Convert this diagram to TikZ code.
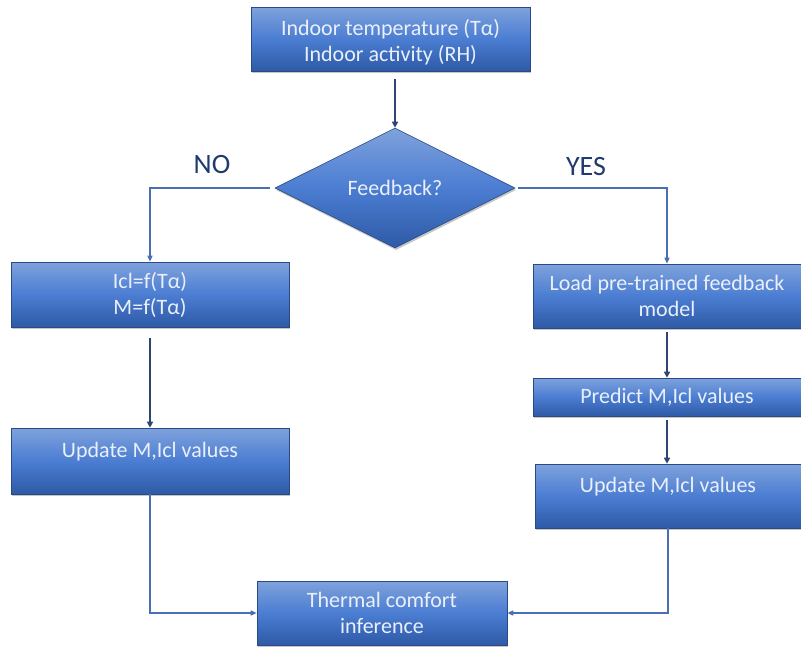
\documentclass[tikz,border=0pt]{standalone}
\usepackage{fontspec}
\setmainfont{Carlito}
\usepackage{xcolor}
\definecolor{cBoxTop}{HTML}{7FA2DC}
\definecolor{cBoxMid}{HTML}{4B7DD2}
\definecolor{cBoxBot}{HTML}{2E5AA6}
\definecolor{cEdge}{HTML}{2A4A85}
\definecolor{cText}{HTML}{EAF0FA}
\definecolor{cArrow}{HTML}{2E4573}
\definecolor{cLink}{HTML}{4A6FB3}
\definecolor{cLabel}{HTML}{1F3A6E}
\usepackage{tikz}
\usetikzlibrary{positioning,arrows.meta,shapes.geometric,shadows}
\tikzset{
  node-box/.style={draw=cEdge,semithick,top color=cBoxTop,bottom color=cBoxBot,
    middle color=cBoxMid,text=cText,align=center,inner sep=0pt,
    font=\fontsize{22}{26}\selectfont,
    drop shadow={shadow xshift=1pt,shadow yshift=-2pt,fill=black!45}},
  node-decide/.style={node-box,diamond,aspect=2},
  node-tag/.style={text=cLabel,font=\fontsize{28}{30}\selectfont,inner sep=0pt},
  arrow/.style={-{Triangle[length=6pt,width=6pt]},line width=2pt,draw=cArrow},
  arrow-link/.style={-{Triangle[length=6pt,width=5pt]},line width=1.4pt,draw=cLink},
}

\begin{document}
\begin{tikzpicture}[x=1pt,y=-1pt]
  \useasboundingbox (0,0) rectangle (801,648);
  \node[node-box,minimum width=279pt,minimum height=64pt] (indoor) at (390.5,39)
    {\rule{0pt}{22pt}Indoor temperature (Tα)\\Indoor activity (RH)};
  \node[node-decide,minimum width=240pt,minimum height=120pt] (fb) at (395,188) {Feedback?};
  % NO branch
  \node[node-box,minimum width=278pt,minimum height=65pt] (icl) at (150,294.5)
    {Icl=f(Tα)\\M=f(Tα)};
  \node[node-box,minimum width=278pt,minimum height=66pt] (updl) at (150,461)
    {Update M,Icl values\\[-12pt]\strut};
  % YES branch
  \node[node-box,minimum width=268pt,minimum height=64pt] (load) at (667,296)
    {Load pre-trained feedback\\model};
  \node[node-box,minimum width=268pt,minimum height=38pt] (pred) at (667,397)
    {Predict M,Icl values};
  \node[node-box,minimum width=266pt,minimum height=64pt] (updr) at (668,496)
    {Update M,Icl values\\[-12pt]\strut};
  \node[node-box,minimum width=250pt,minimum height=64pt] (therm) at (382,613)
    {Thermal comfort\\inference};
  \node[node-tag] (no)  at (212,165) {NO};
  \node[node-tag] (yes) at (586,167) {YES};

  \draw[arrow,shorten <=8pt] (fb.north |- indoor.south) -- (fb.north);
  \draw[arrow-link,shorten <=5pt] (fb.west) -| (icl.north);
  \draw[arrow-link,shorten <=3pt] (fb.east) -| (load.north);
  \draw[arrow,shorten <=11pt] (icl) -- (updl);
  \draw[arrow,shorten <=4pt] (load) -- (pred);
  \draw[arrow,shorten <=4pt] (pred) -- (pred |- updr.north);
  \draw[arrow-link] (updl.south) |- (therm.west);
  \draw[arrow-link] (updr.south) |- (therm.east);
\end{tikzpicture}
\end{document}
